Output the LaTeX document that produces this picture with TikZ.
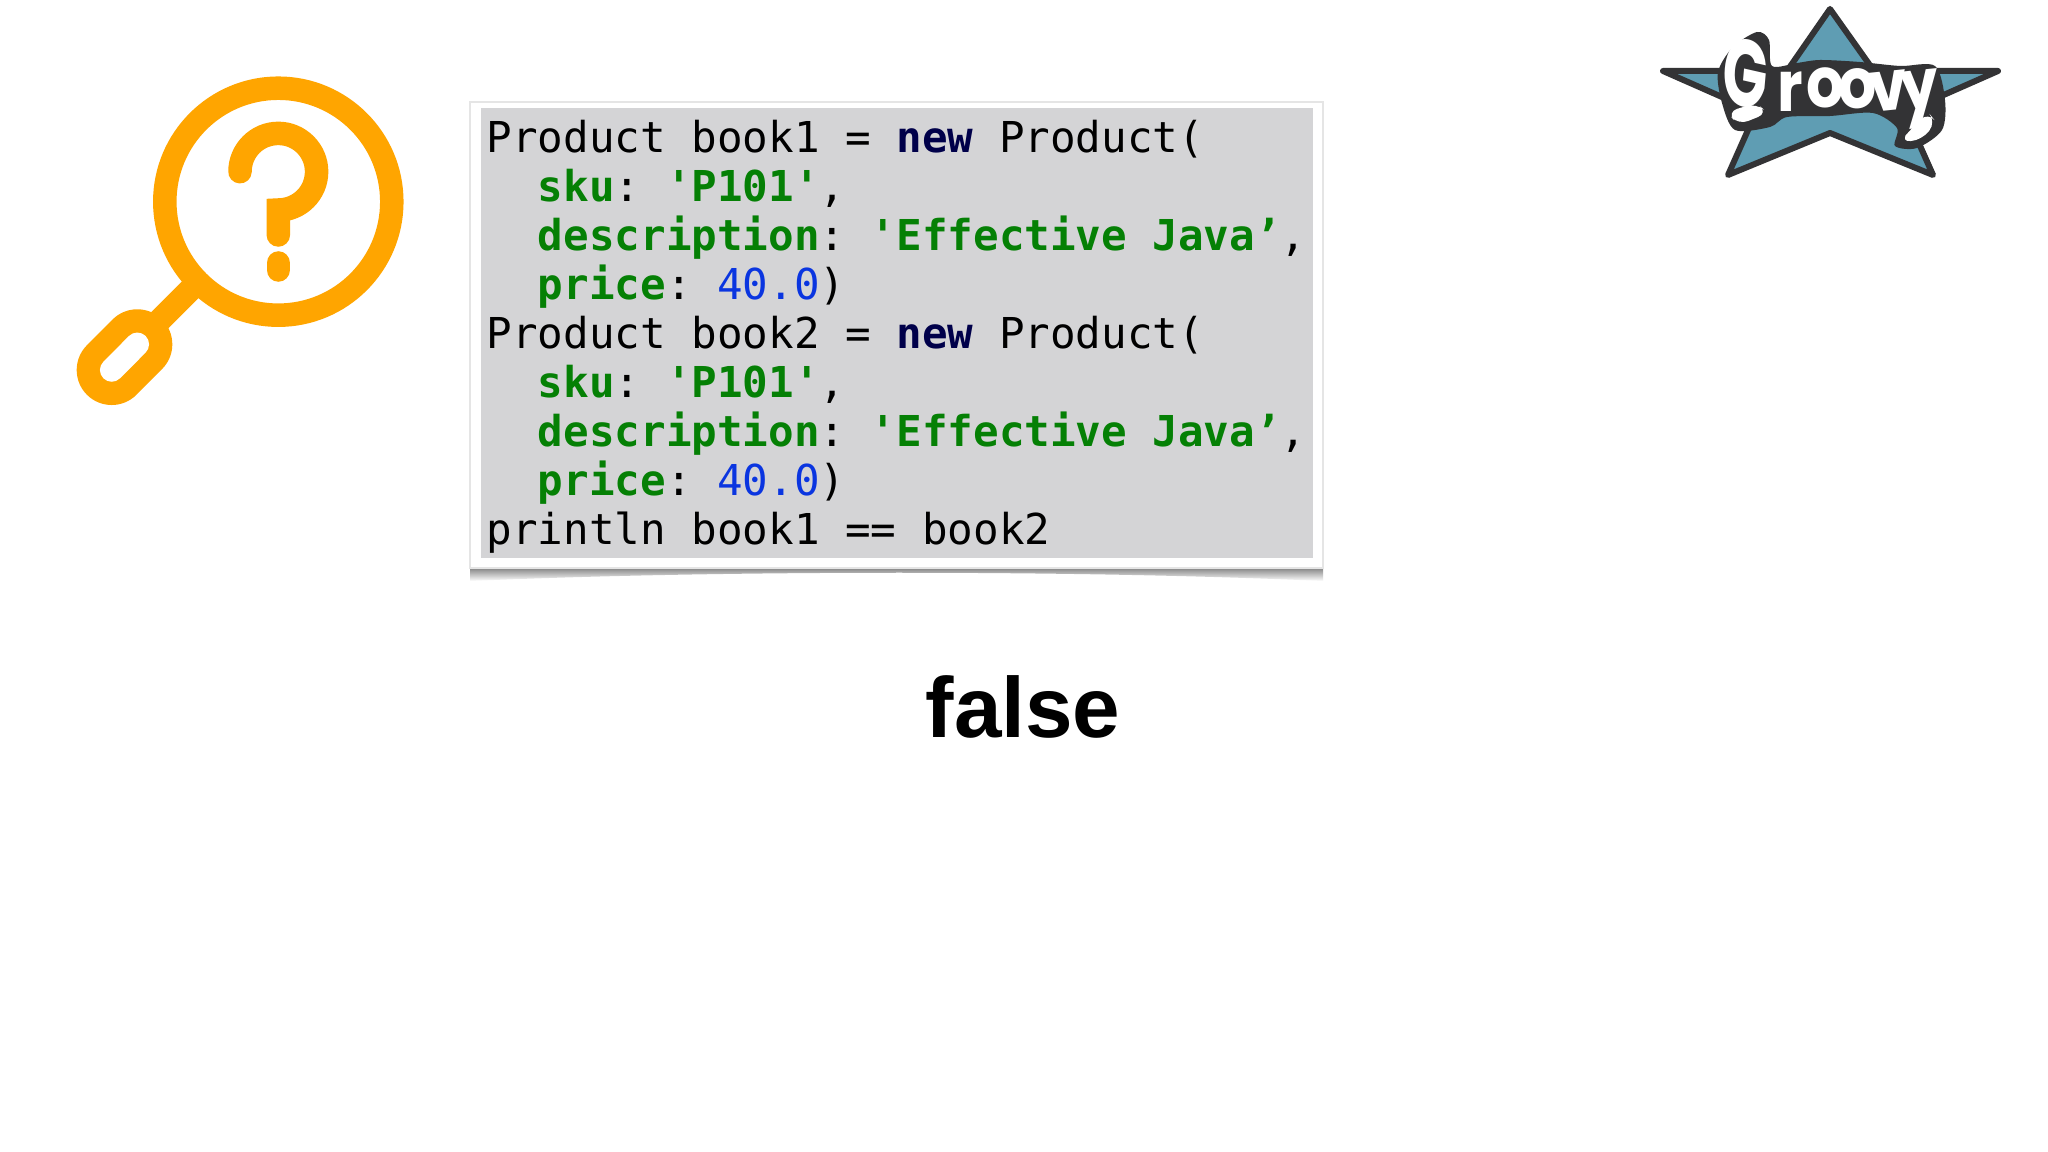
\documentclass[tikz,border=0pt]{standalone}
\usepackage{fontspec}
\setmainfont{Liberation Sans}
\setmonofont{DejaVu Sans Mono}
\newfontfamily\logofont{Poppins}
\definecolor{lensorange}{HTML}{FFA500}
\definecolor{codegray}{HTML}{D4D4D6}
\definecolor{fieldgreen}{HTML}{058005}
\definecolor{numblue}{HTML}{0A35E0}
\definecolor{newnavy}{HTML}{00004A}
\definecolor{starteal}{HTML}{5F9DB3}
\definecolor{stardark}{HTML}{333335}
\def\fld#1{\textcolor{fieldgreen}{\textbf{#1}}}
\def\kw#1{\textcolor{newnavy}{\textbf{#1}}}
\def\num#1{\textcolor{numblue}{#1}}
\tikzset{
	lens/.style={draw=lensorange,line width=0.235cm,line cap=round},
	logoletter/.style={font=\logofont\bfseries\fontsize{#1}{#1}\selectfont,text=white,inner sep=0pt},
}
\begin{document}
\begin{tikzpicture}[x=0.01cm,y=-0.01cm]
		\useasboundingbox (0,0) rectangle (2048,1152);
		% Page background
		\fill[white] (0,0) rectangle (2048,1152);

		% Magnifying glass with question mark
		\draw[lens] (278.3,201.7) circle (113.5);
		\draw[lens,line cap=butt] (202,278) -- (140,340);
		\draw[lensorange,line width=0.7cm,line cap=round] (137.3,344.3) -- (111.7,370);
		\draw[white,line width=0.235cm,line cap=round] (137.3,344.3) -- (111.7,370);
		\draw[lens] (240,171.7) arc (180:450:38.3) -- (278.3,235);
		\draw[lens] (278.3,263) -- (278.3,270);

		% Paper shadow, drawn before the paper
		\shade[top color=gray!90!black,bottom color=white] (470,566) -- (470,581) .. controls (720,570) and (1080,570) .. (1323,581) -- (1323,566) -- cycle;
		\fill[white,draw=gray!20] (470,102) rectangle (1323,568);
		\fill[codegray] (481,108) rectangle (1313,558);

		% Code listing
		\node[anchor=north west,inner sep=0pt,align=left,font=\ttfamily\fontsize{12.1}{13.95}\selectfont] (code) at (486,119.5) {%
			Product book1 = \kw{new} Product(\\
			\ \ \fld{sku}: \fld{'P101'},\\
			\ \ \fld{description}: \fld{'Effective Java’},\\
			\ \ \fld{price}: \num{40.0})\\
			Product book2 = \kw{new} Product(\\
			\ \ \fld{sku}: \fld{'P101'},\\
			\ \ \fld{description}: \fld{'Effective Java’},\\
			\ \ \fld{price}: \num{40.0})\\
			println book1 == book2};

		% Result
		\node[font=\bfseries\fontsize{24.3}{25}\selectfont,inner sep=0pt] (result) at (1023,707) {false};

		% Groovy star
		\fill[starteal,draw=stardark,line width=0.06cm,line join=round] (1830,9) -- (1874,71) -- (1998,71) -- (1905,112) -- (1933,175) -- (1830,133) -- (1728,175) -- (1756,112) -- (1663,71) -- (1787,71) -- cycle;
		% Dark backing of the letters
		\fill[stardark] plot[smooth cycle,tension=0.5] coordinates {(1757,32) (1769,40) (1772,66) (1797,63) (1820,60) (1860,62) (1900,66) (1935,66) (1945,100) (1942,130) (1917,148) (1895,146) (1897,128) (1873,113) (1830,116) (1787,117) (1770,127) (1735,130) (1722,103) (1718,72) (1733,47)};
		\fill[white,rounded corners=3] (1727,112) -- (1756,103) -- (1768,113) -- (1738,125) -- cycle;
		\fill[white,rounded corners=3] (1900,142) -- (1922,140) -- (1936,122) -- (1928,112) -- (1912,128) -- cycle;
		% Letters
		\node[logoletter=27,xscale=0.62,rotate=-8] (logoG) at (1746,73) {G};
		\node[logoletter=20,xscale=0.85] (logoR) at (1790,92) {r};
		\node[logoletter=20,xscale=0.85] (logoOa) at (1826,88) {o};
		\node[logoletter=20,xscale=0.85,rotate=3] (logoOb) at (1858,89) {o};
		\node[logoletter=20,xscale=0.85,rotate=5] (logoV) at (1889,91) {v};
		\node[logoletter=20,xscale=0.85,rotate=5] (logoY) at (1921,99) {y};
\end{tikzpicture}
\end{document}
